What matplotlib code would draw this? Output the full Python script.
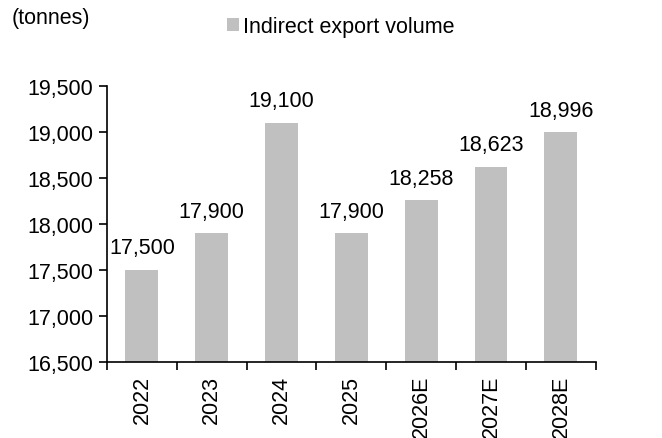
import matplotlib
matplotlib.use("Agg")
import matplotlib.pyplot as plt
import numpy as np

plt.rcParams['font.family'] = ['Liberation Sans', 'DejaVu Sans']

years = ["2022", "2023", "2024", "2025", "2026E", "2027E", "2028E"]
volume = [17500, 17900, 19100, 17900, 18258, 18623, 18996]
yticks = [16500, 17000, 17500, 18000, 18500, 19000, 19500]

FS = 15.5

fig = plt.figure(figsize=(6.62, 4.39), dpi=100)
ax = fig.add_axes([0.1616, 0.173, 0.7384, 0.629])

x = np.arange(len(years))
bars = ax.bar(x, volume, width=0.47, color="#c0c0c0", label="Indirect export volume")
ax.set_ylim(16500, 19500)
ax.set_xlim(-0.5, len(years) - 0.5)

for xi, v in zip(x, volume):
    ax.annotate(f"{v:,}", (xi, v), xytext=(0, 12), textcoords="offset points",
                ha="center", va="baseline", fontsize=FS)

ax.set_yticks(yticks)
ax.set_yticklabels([f"{t:,}" for t in yticks], fontsize=FS)
ax.set_xticks(x)
ax.set_xticklabels(years, rotation=90, fontsize=FS)
ax.tick_params(axis="x", which="major", length=0, pad=9)
ax.set_xticks(np.arange(-0.5, len(years)), minor=True)
ax.tick_params(axis="x", which="minor", length=6, width=1.2, direction="out")
ax.tick_params(axis="y", length=6, width=1.2, direction="out", pad=4)

for s in ["top", "right"]:
    ax.spines[s].set_visible(False)
for s in ["left", "bottom"]:
    ax.spines[s].set_linewidth(1.2)

fig.text(0.018, 0.957, "(tonnes)", fontsize=FS, ha="left", va="center")
fig.legend(handles=[bars], labels=["Indirect export volume"], loc="center left",
           bbox_to_anchor=(0.343, 0.937), frameon=False, fontsize=FS,
           handlelength=0.55, handleheight=0.55, handletextpad=0.2, borderaxespad=0,
           borderpad=0)

fig.savefig("out.png", dpi=100)
